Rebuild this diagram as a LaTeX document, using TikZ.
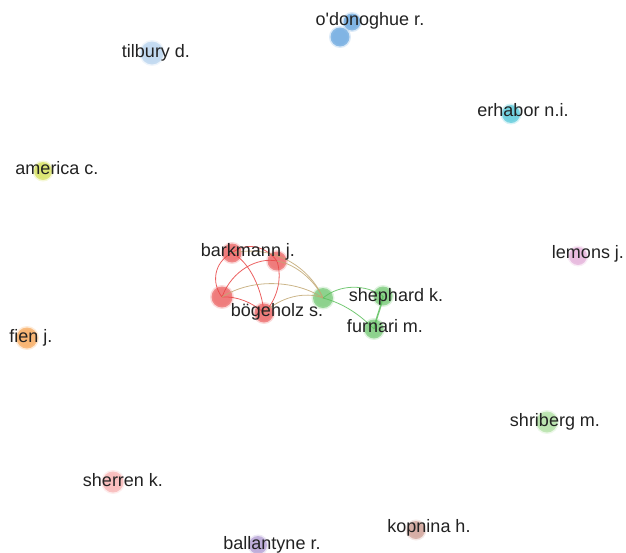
\documentclass[tikz,border=0pt]{standalone}
\usepackage{fontspec}
\setmainfont{Liberation Sans}
\definecolor{cred}{HTML}{E84545}
\definecolor{cgreen}{HTML}{5CBF5C}
\definecolor{cblue}{HTML}{4A94D8}
\definecolor{clblue}{HTML}{A9CBEB}
\definecolor{ccyan}{HTML}{35BED2}
\definecolor{cyellow}{HTML}{CDDB3A}
\definecolor{cpink}{HTML}{DE9FD2}
\definecolor{corange}{HTML}{F5973A}
\definecolor{clgreen}{HTML}{9ED98E}
\definecolor{clpink}{HTML}{F6A3A3}
\definecolor{cbrown}{HTML}{C58C80}
\definecolor{cpurple}{HTML}{A38ACB}
\definecolor{cmix}{HTML}{C2A874}
\definecolor{ctext}{HTML}{222222}
\tikzset{
  bub/.style={circle, inner sep=0pt, minimum size=#1, fill opacity=0.7},
  halo/.style={draw=#1!55, line width=3pt, draw opacity=0.35, fill=#1},
  lbl/.style={anchor=base, text=ctext, font=\fontsize{18}{19}\selectfont, inner sep=0pt},
  redge/.style={draw=cred, line width=0.8pt, draw opacity=0.85},
  gedge/.style={draw=cgreen, line width=0.8pt, draw opacity=0.85},
  medge/.style={draw=cmix, line width=0.8pt, draw opacity=0.85}
}
\begin{document}
\begin{tikzpicture}[x=1pt,y=-1pt]
\useasboundingbox (0,0) rectangle (626,552);
% bubbles
\node[bub=17pt, halo=cblue] (od1) at (352,22) {};
\node[bub=19pt, halo=cblue] (od2) at (340,37) {};
\node[bub=23pt, halo=clblue] (ti) at (152,53) {};
\node[bub=18pt, halo=ccyan] (er) at (511,114) {};
\node[bub=18pt, halo=cyellow] (am) at (43,171) {};
\node[bub=18pt, halo=cpink] (le) at (578,256) {};
\node[bub=21pt, halo=corange] (fi) at (27,338) {};
\node[bub=21pt, halo=clgreen] (sh) at (547,422) {};
\node[bub=21pt, halo=clpink] (se) at (113,482) {};
\node[bub=18pt, halo=cbrown] (ko) at (416,530) {};
\node[bub=18pt, halo=cpurple] (ba) at (258,545) {};
% cluster
\node[bub=19pt, halo=cred] (a) at (232,253) {};
\node[bub=19pt, halo=cred] (b) at (277,261) {};
\node[bub=21pt, halo=cred] (c) at (222,297) {};
\node[bub=19pt, halo=cred] (d) at (264,313) {};
\node[bub=20pt, halo=cgreen] (e) at (323,298) {};
\node[bub=19pt, halo=cgreen] (f) at (383,296) {};
\node[bub=19pt, halo=cgreen] (g) at (374,329) {};
% edges
\draw[redge] (a.center) .. controls (245,242) and (265,245) .. (b.center);
\draw[redge] (a.center) .. controls (214,262) and (211,283) .. (c.center);
\draw[redge] (a.center) .. controls (250,262) and (262,290) .. (d.center);
\draw[redge] (b.center) .. controls (258,257) and (232,270) .. (c.center);
\draw[redge] (b.center) .. controls (283,280) and (276,301) .. (d.center);
\draw[redge] (c.center) .. controls (236,296) and (252,302) .. (d.center);
\draw[medge] (a.center) .. controls (275,244) and (310,268) .. (e.center);
\draw[medge] (b.center) .. controls (296,264) and (315,281) .. (e.center);
\draw[medge] (c.center) .. controls (252,278) and (296,280) .. (e.center);
\draw[medge] (d.center) .. controls (280,297) and (305,291) .. (e.center);
\draw[gedge] (e.center) .. controls (340,284) and (365,284) .. (f.center);
\draw[gedge] (e.center) .. controls (346,304) and (362,317) .. (g.center);
\draw[gedge, line width=1.6pt] (f.center) .. controls (381,308) and (376,318) .. (g.center);
% labels
\node[lbl] (lod) at (370,25) {o\textquotesingle donoghue r.};
\node[lbl] (lti) at (156,57) {tilbury d.};
\node[lbl] (ler) at (523,116) {erhabor n.i.};
\node[lbl] (lam) at (57,174) {america c.};
\node[lbl] (lle) at (588,258) {lemons j.};
\node[lbl] (lfi) at (31,342) {fien j.};
\node[lbl] (lsh) at (555,426) {shriberg m.};
\node[lbl] (lse) at (123,486) {sherren k.};
\node[lbl] (lko) at (429,532) {kopnina h.};
\node[lbl] (lba) at (272,549) {ballantyne r.};
\node[lbl] (la) at (248,256) {barkmann j.};
\node[lbl] (ld) at (277,316) {bögeholz s.};
\node[lbl] (lf) at (396,301) {shephard k.};
\node[lbl] (lg) at (385,332) {furnari m.};
\end{tikzpicture}
\end{document}
